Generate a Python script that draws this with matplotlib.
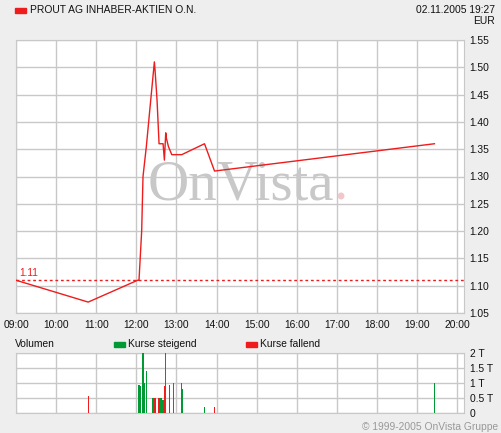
import matplotlib
matplotlib.use("Agg")
import matplotlib.pyplot as plt
from matplotlib.patches import Rectangle

plt.rcParams['font.family'] = ['Liberation Sans', 'DejaVu Sans']

# price line (time, EUR)
price_times = ["09:00", "10:48", "12:02", "12:04", "12:08", "12:10", "12:15", "12:20",
               "12:27", "12:28", "12:31", "12:34", "12:40", "12:42", "12:44", "12:45",
               "12:48", "12:53", "13:08", "13:42", "13:57", "19:26"]
price_vals = [1.11, 1.07, 1.11, 1.11, 1.20, 1.30, 1.355, 1.42,
              1.51, 1.495, 1.44, 1.36, 1.36, 1.33, 1.38, 1.37,
              1.355, 1.34, 1.34, 1.36, 1.31, 1.36]
ref_price = 1.11

# volume bars (time, volume in T, rising?)
vol_times = ["09:03", "10:48", "12:04", "12:06", "12:10", "12:12", "12:15", "12:25",
             "12:28", "12:33", "12:34", "12:37", "12:40", "12:42", "12:43", "12:49",
             "12:54", "12:55", "13:07", "13:09", "13:42", "13:57", "19:26"]
vol_vals = [0.02, 0.58, 0.94, 0.91, 2.0, 1.0, 1.4, 0.5,
            0.5, 0.5, 0.5, 0.5, 0.45, 0.91, 2.0, 0.94,
            0.02, 1.0, 1.0, 0.8, 0.2, 0.2, 1.0]
vol_up = [1, 0, 1, 1, 1, 1, 1, 1,
          0, 0, 0, 1, 1, 0, 1, 0,
          0, 1, 1, 1, 1, 0, 1]

hour_labels = ["09:00", "10:00", "11:00", "12:00", "13:00", "14:00", "15:00",
               "16:00", "17:00", "18:00", "19:00", "20:00"]
price_ticks = [1.05, 1.10, 1.15, 1.20, 1.25, 1.30, 1.35, 1.40, 1.45, 1.50, 1.55]
vol_ticks = [0, 0.5, 1, 1.5, 2]
vol_tick_labels = ["0", "0.5 T", "1 T", "1.5 T", "2 T"]


def to_h(s):
    h, m = s.split(":")
    return int(h) + int(m) / 60.0


BG = "#eeeeee"
GRID = "#c8c8c8"
RED = "#ee1c1c"
GREEN = "#009933"
TXT = "#111111"
FS = 7.4

fig = plt.figure(figsize=(5.01, 4.33), dpi=100)
fig.patch.set_facecolor(BG)

xmin, xmax = 9.0, 20.17

# main price axes
ax = fig.add_axes([16 / 501, 1 - 313 / 433, 448 / 501, 273 / 433])
ax.set_facecolor("white")
ax.set_xlim(xmin, xmax)
ax.set_ylim(1.05, 1.55)
ax.set_xticks([to_h(t) for t in hour_labels])
ax.set_xticklabels(hour_labels)
ax.set_yticks(price_ticks)
ax.set_yticklabels(["%.2f" % v for v in price_ticks])
ax.yaxis.tick_right()
ax.tick_params(length=0, labelsize=FS, colors=TXT, pad=4)
ax.tick_params(axis="x", pad=5)
ax.grid(True, color=GRID, linewidth=1)
ax.set_axisbelow(True)
for sp in ax.spines.values():
    sp.set_color(GRID)

ax.text(0.503, 0.415, "OnVista", transform=ax.transAxes, ha="center", va="baseline",
        fontsize=41, family="Liberation Serif", color="#c8c8c8", zorder=1)
ax.text(0.708, 0.415, ".", transform=ax.transAxes, ha="left", va="baseline",
        fontsize=41, family="Liberation Serif", color="#f0c8cc", zorder=1)

ax.axhline(ref_price, color=RED, linestyle=(0, (2, 2)), linewidth=1, zorder=3)
ax.text(xmin + 0.07, ref_price + 0.004, "%.2f" % ref_price, color=RED, fontsize=FS,
        va="bottom", ha="left")
ax.plot([to_h(t) for t in price_times], price_vals, color=RED, linewidth=1, zorder=4)

# volume axes
axv = fig.add_axes([16 / 501, 1 - 413.3 / 433, 448 / 501, 60 / 433])
axv.set_facecolor("white")
axv.set_xlim(xmin, xmax)
axv.set_ylim(0, 2)
axv.set_xticks([to_h(t) for t in hour_labels])
axv.set_xticklabels([])
axv.set_yticks(vol_ticks)
axv.set_yticklabels(vol_tick_labels)
axv.yaxis.tick_right()
axv.tick_params(length=0, labelsize=FS, colors=TXT, pad=4)
axv.grid(True, color=GRID, linewidth=1)
axv.set_axisbelow(True)
for sp in axv.spines.values():
    sp.set_color(GRID)
axv.bar([to_h(t) for t in vol_times], vol_vals, width=0.028,
        color=[GREEN if u else RED for u in vol_up], align="center", zorder=3)

# header
fig.patches.append(Rectangle((15 / 501, 1 - 13 / 433), 11 / 501, 5 / 433,
                             transform=fig.transFigure, color=RED))
fig.text(30 / 501, 1 - 10 / 433, "PROUT AG INHABER-AKTIEN O.N.", fontsize=FS,
         color=TXT, va="center", ha="left")
fig.text(495 / 501, 1 - 10 / 433, "02.11.2005 19:27", fontsize=FS, color=TXT,
         va="center", ha="right")
fig.text(495 / 501, 1 - 21 / 433, "EUR", fontsize=FS, color=TXT, va="center", ha="right")

# volume legend
fig.text(15 / 501, 1 - 344 / 433, "Volumen", fontsize=FS, color=TXT, va="center")
fig.patches.append(Rectangle((114 / 501, 1 - 347 / 433), 11 / 501, 5 / 433,
                             transform=fig.transFigure, color=GREEN))
fig.text(128 / 501, 1 - 344 / 433, "Kurse steigend", fontsize=FS, color=TXT, va="center")
fig.patches.append(Rectangle((246 / 501, 1 - 347 / 433), 11 / 501, 5 / 433,
                             transform=fig.transFigure, color=RED))
fig.text(260 / 501, 1 - 344 / 433, "Kurse fallend", fontsize=FS, color=TXT, va="center")

fig.text(498 / 501, 1 - 427 / 433, "\u00a9 1999-2005 OnVista Gruppe", fontsize=FS,
         color="#999999", va="center", ha="right")

fig.savefig("out.png", dpi=100, facecolor=BG)
